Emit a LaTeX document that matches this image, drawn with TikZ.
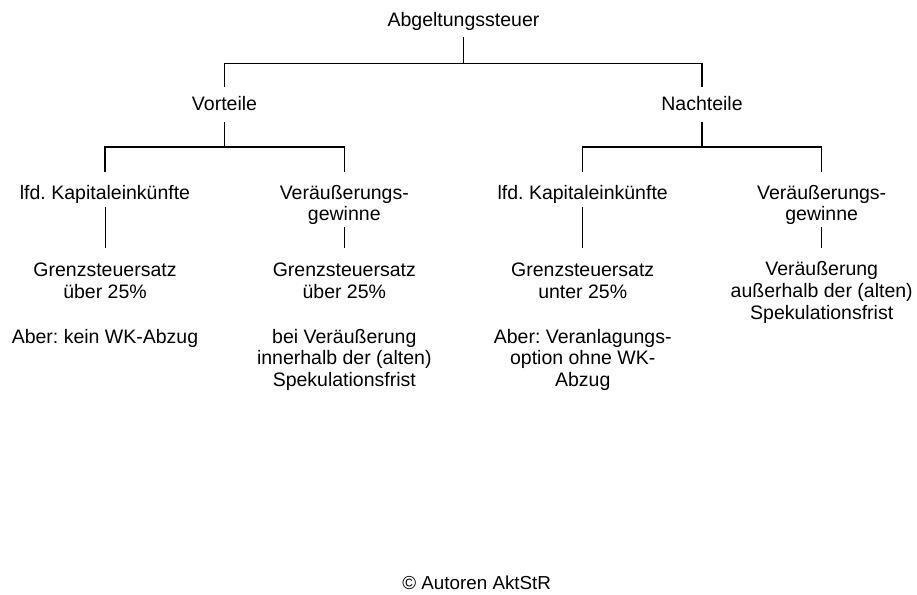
\documentclass[tikz,border=0pt]{standalone}
\usepackage{fontspec}
\setmainfont{Liberation Sans}
\frenchspacing
\begin{document}
\begin{tikzpicture}[x=1pt,y=-1pt,
  lbl/.style={anchor=north,inner sep=0pt,outer sep=0pt,align=center,
    font=\fontsize{19.5}{21.7}\selectfont},
  stem/.style={line width=1.8pt},
  branch/.style={line width=1.2pt},
  leafline/.style={line width=1pt}]
\useasboundingbox[fill=white] (0,0) rectangle (917,594);

% tree levels
\node[lbl] (root) at (463.5,12) {Abgeltungssteuer};
\node[lbl] (vor)  at (224.5,96) {Vorteile};
\node[lbl] (nach) at (702,96)   {Nachteile};

\node[lbl] (vk) at (105,185)   {lfd. Kapitaleinkünfte};
\node[lbl] (vg) at (344.3,185) {Veräußerungs-\\gewinne};
\node[lbl] (nk) at (582.7,185) {lfd. Kapitaleinkünfte};
\node[lbl] (ng) at (821.7,185) {Veräußerungs-\\gewinne};

\node[lbl] (vk3) at (105,263)   {Grenzsteuersatz\\über 25\%\\[23pt]Aber: kein WK-Abzug};
\node[lbl] (vg3) at (344.3,263) {Grenzsteuersatz\\über 25\%\\[23pt]bei Veräußerung\\innerhalb der (alten)\\Spekulationsfrist};
\node[lbl] (nk3) at (582.7,263) {Grenzsteuersatz\\unter 25\%\\[23pt]Aber: Veranlagungs-\\option ohne WK-\\Abzug};
\node[lbl] (ng3) at (821.7,261.5) {Veräußerung\\außerhalb der (alten)\\Spekulationsfrist};

\node[anchor=base,inner sep=0pt,font=\fontsize{18.8}{21}\selectfont] (copy) at (476.7,589.3) {© Autoren AktStR};

% connectors
\draw[stem] ([yshift=-11.3pt]root.base) -- ([yshift=-37.3pt]root.base);
\draw[branch] ([yshift=9.3pt]vor.north) -- ([yshift=32.7pt]vor.north) -| ([yshift=9.3pt]nach.north);

\draw[stem] ([yshift=-11.7pt]vor.base) -- ([yshift=-37pt]vor.base);
\draw[stem] ([yshift=-11.7pt]nach.base) -- ([yshift=-37pt]nach.base);

\draw[branch] ([yshift=13.3pt]vk.north) -- ([yshift=38pt]vk.north) -| ([yshift=13.3pt]vg.north);
\draw[branch] ([yshift=13.3pt]nk.north) -- ([yshift=38pt]nk.north) -| ([yshift=13.3pt]ng.north);

\draw[leafline] ([yshift=-3.5pt]vk.south) -- ([yshift=14.7pt]vk.south |- vk3.north);
\draw[leafline] ([yshift=-2.5pt]vg.south) -- ([yshift=14.7pt]vg.south |- vg3.north);
\draw[leafline] ([yshift=-3.5pt]nk.south) -- ([yshift=14.7pt]nk.south |- nk3.north);
\draw[leafline] ([yshift=-2.5pt]ng.south) -- ([yshift=13.2pt]ng.south |- ng3.north);
\end{tikzpicture}
\end{document}
